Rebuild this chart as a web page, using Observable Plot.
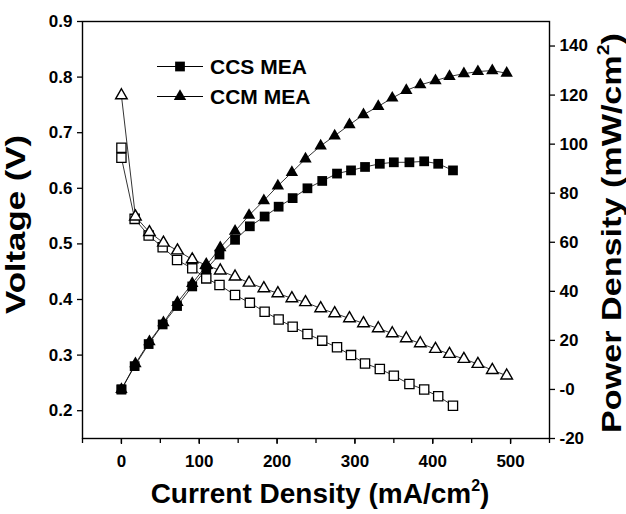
<!DOCTYPE html>
<html>
<head>
<meta charset="utf-8">
<script src="https://cdn.jsdelivr.net/npm/d3@7"></script>
<script src="https://cdn.jsdelivr.net/npm/@observablehq/plot@0.6"></script>
<style>
  html, body { margin: 0; padding: 0; background: #fff; }
</style>
</head>
<body>
<div id="chart"></div>
<script>
// ---- data ----
const ccsCurrent = [0, 0, 17, 35, 53, 71.5, 91, 109, 126, 146, 165, 184, 202, 220, 239, 258, 277, 295, 313, 332, 350, 370, 389, 407, 426];
const ccsVoltage = [0.673, 0.655, 0.545, 0.515, 0.494, 0.471, 0.456, 0.438, 0.426, 0.408, 0.394, 0.378, 0.364, 0.351, 0.338, 0.326, 0.314, 0.300, 0.285, 0.275, 0.263, 0.248, 0.238, 0.226, 0.209];
const ccsPower = [0, 0, 9.5, 18.5, 26.5, 34, 42, 49, 55, 61, 66.5, 70.5, 74.5, 78, 82, 85, 88, 89.3, 90.7, 92, 92.6, 92.6, 93, 92, 89.3];

const ccmCurrent = [0, 18, 36, 54, 72, 91, 109, 127, 146, 164, 183, 201, 219, 236.5, 256, 274, 293, 311, 330, 348, 366, 384, 403.5, 421.5, 440, 458, 476.5, 495];
const ccmVoltage = [0.767, 0.549, 0.521, 0.502, 0.488, 0.472, 0.462, 0.452, 0.441, 0.430, 0.420, 0.411, 0.402, 0.395, 0.384, 0.375, 0.366, 0.357, 0.348, 0.339, 0.330, 0.321, 0.311, 0.302, 0.293, 0.284, 0.273, 0.263];
const ccmPower = [0, 10.5, 19.5, 27.2, 35.5, 43.2, 50.5, 57.8, 64.5, 71, 77, 83, 88.5, 94, 99.3, 103.4, 107.9, 112, 115.4, 118.8, 121.9, 124.2, 125.9, 127.6, 128.7, 129.6, 130, 128.9];

const seriesNames = ["CCS MEA", "CCM MEA"];
const xMinorTicks = [-50, 0, 50, 100, 150, 200, 250, 300, 350, 400, 450, 500, 550];
const xMajorTicks = [0, 100, 200, 300, 400, 500];
const voltageTicks = [0.2, 0.3, 0.4, 0.5, 0.6, 0.7, 0.8, 0.9];
const powerTicks = [-20, 0, 20, 40, 60, 80, 100, 120, 140];

const vDomain = [0.15, 0.9];
const pDomain = [-20, 150];
// map power onto the voltage scale (dual axis)
const pToV = p => vDomain[0] + (p - pDomain[0]) * (vDomain[1] - vDomain[0]) / (pDomain[1] - pDomain[0]);
const vToP = v => pDomain[0] + (v - vDomain[0]) * (pDomain[1] - pDomain[0]) / (vDomain[1] - vDomain[0]);

const ccs = ccsCurrent.map((c, i) => ({i: c, v: ccsVoltage[i], pv: pToV(ccsPower[i])}));
const ccm = ccmCurrent.map((c, i) => ({i: c, v: ccmVoltage[i], pv: pToV(ccmPower[i])}));

const FONT = "'Liberation Sans', Arial, Helvetica, sans-serif";
const lineStyle = {stroke: "#000", strokeWidth: 0.8};

const svg = Plot.plot({
  width: 626,
  height: 514,
  marginLeft: 82,
  marginRight: 77,
  marginTop: 21,
  marginBottom: 76,
  style: {fontFamily: FONT, fontSize: "17px", fontWeight: "bold", background: "#fff", color: "#000"},
  x: {domain: [-50, 550]},
  y: {domain: vDomain},
  marks: [
    // axes
    Plot.axisX(xMinorTicks, {tickSize: 5, text: null, label: null, strokeWidth: 1.3}),
    Plot.axisX(xMajorTicks, {tickSize: 6, tickPadding: 10, label: null, strokeWidth: 1.3}),
    Plot.axisY(voltageTicks, {anchor: "left", tickSize: 5, tickPadding: 5, label: null, tickFormat: d3.format(".1f"), strokeWidth: 1.3}),
    Plot.axisY(powerTicks.map(pToV), {anchor: "right", tickSize: 5, tickPadding: 5, label: null, tickFormat: v => Math.round(vToP(v)), strokeWidth: 1.3}),
    Plot.frame({stroke: "#000", strokeWidth: 1.4}),
    // connecting lines
    Plot.line(ccs, {x: "i", y: "v", ...lineStyle}),
    Plot.line(ccm, {x: "i", y: "v", ...lineStyle}),
    Plot.line(ccs, {x: "i", y: "pv", ...lineStyle}),
    Plot.line(ccm, {x: "i", y: "pv", ...lineStyle}),
    // open symbols: voltage
    Plot.dot(ccs, {x: "i", y: "v", symbol: "square", r: 5.2, fill: "#fff", stroke: "#000", strokeWidth: 1.3}),
    Plot.dot(ccm, {x: "i", y: "v", symbol: "triangle", r: 4.3, fill: "#fff", stroke: "#000", strokeWidth: 1.4}),
    // filled symbols: power
    Plot.dot(ccs, {x: "i", y: "pv", symbol: "square", r: 5.5, fill: "#000", stroke: "none"}),
    Plot.dot(ccm, {x: "i", y: "pv", symbol: "triangle", r: 4.6, fill: "#000", stroke: "none"})
  ]
});

document.getElementById("chart").appendChild(svg);

const root = d3.select(svg);

// axis titles
const xt = root.append("text")
  .attr("x", 320).attr("y", 503)
  .attr("text-anchor", "middle")
  .attr("font-family", FONT).attr("font-weight", "bold").attr("font-size", 28)
  .attr("fill", "#000");
xt.append("tspan").text("Current Density (mA/cm");
xt.append("tspan").attr("dy", -12).attr("font-size", 16).text("2");
xt.append("tspan").attr("dy", 12).text(")");

root.append("text")
  .attr("transform", "translate(25,224.5) rotate(-90)")
  .attr("text-anchor", "middle")
  .attr("font-family", FONT).attr("font-weight", "bold").attr("font-size", 28)
  .attr("textLength", 179).attr("lengthAdjust", "spacingAndGlyphs")
  .attr("fill", "#000")
  .text("Voltage (V)");

const rt = root.append("text")
  .attr("transform", "translate(621,233) rotate(-90)")
  .attr("text-anchor", "middle")
  .attr("font-family", FONT).attr("font-weight", "bold").attr("font-size", 28)
  .attr("textLength", 400).attr("lengthAdjust", "spacingAndGlyphs")
  .attr("fill", "#000");
rt.append("tspan").text("Power Density (mW/cm");
rt.append("tspan").attr("dy", -12).attr("font-size", 16).text("2");
rt.append("tspan").attr("dy", 12).text(")");

// legend
const legend = root.append("g");
const legendRows = [
  {name: seriesNames[0], y: 66.5, sym: d3.symbolSquare, size: Math.PI * 5.5 * 5.5},
  {name: seriesNames[1], y: 96.5, sym: d3.symbolTriangle, size: Math.PI * 4.6 * 4.6}
];
legendRows.forEach(r => {
  legend.append("line").attr("x1", 157).attr("x2", 203).attr("y1", r.y).attr("y2", r.y)
    .attr("stroke", "#000").attr("stroke-width", 1);
  legend.append("path").attr("d", d3.symbol(r.sym, r.size)())
    .attr("transform", `translate(180,${r.y})`).attr("fill", "#000");
  legend.append("text").attr("x", 210).attr("y", r.y + 7.5)
    .attr("text-anchor", "start")
    .attr("font-family", FONT).attr("font-weight", "bold").attr("font-size", 21)
    .attr("fill", "#000").text(r.name);
});
</script>
</body>
</html>
